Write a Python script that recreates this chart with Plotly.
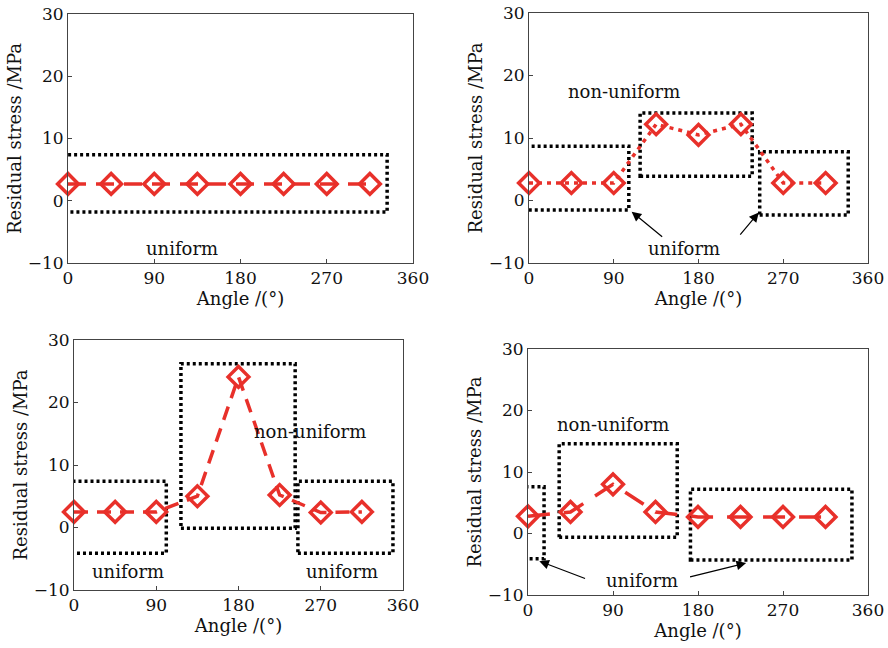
import plotly.graph_objects as go

angles = [0, 45, 90, 135, 180, 225, 270, 315]
stress_a = [2.7, 2.7, 2.7, 2.7, 2.7, 2.7, 2.7, 2.7]
stress_b = [2.8, 2.8, 2.8, 12.2, 10.5, 12.2, 2.8, 2.8]
stress_c = [2.5, 2.5, 2.5, 5.0, 24.1, 5.2, 2.4, 2.5]
stress_d = [2.8, 3.5, 8.0, 3.5, 2.7, 2.7, 2.7, 2.7]

x_ticks = [0, 90, 180, 270, 360]
y_ticks = [-10, 0, 10, 20, 30]
y_ticktext = ["\u221210", "0", "10", "20", "30"]

# dotted region boxes per panel: (x0, x1, y0, y1)
boxes_a = [(-10, 333, -1.8, 7.4)]
boxes_b = [(-13, 106, -1.5, 8.7), (118, 237, 3.9, 14.0), (245, 339, -2.3, 7.8)]
boxes_c = [(-23, 101, -4.1, 7.4), (117, 242, -0.1, 26.2), (245, 349, -4.1, 7.4)]
boxes_d = [(-11, 17, -4.1, 7.6), (33, 158, -0.6, 14.6), (172, 343, -4.3, 7.2)]

# text labels per panel: (text, x, y)
labels_a = [("uniform", 119, -7.7)]
labels_b = [("non-uniform", 101, 17.4), ("uniform", 165, -7.6)]
labels_c = [("non-uniform", 258, 15.3), ("uniform", 59, -7.1), ("uniform", 293, -7.1)]
labels_d = [("non-uniform", 90, 17.8), ("uniform", 121, -7.7)]

# arrows per panel: (tail_x, tail_y, head_x, head_y)
arrows_b = [(143, -6.0, 109, -1.8), (223, -5.7, 244, -1.9)]
arrows_d = [(62, -7.4, 12, -4.5), (170, -7.1, 231, -4.8)]

RED = "#e8302a"
FONT = "DejaVu Serif"
TXT = "#111"

panels = [
    dict(y=stress_a, dash="18px,10px", boxes=boxes_a, labels=labels_a, arrows=[],
         xd=[68 / 888, 413 / 888], yd=[1 - 263 / 648, 1 - 14 / 648]),
    dict(y=stress_b, dash="4px,5px", boxes=boxes_b, labels=labels_b, arrows=arrows_b,
         xd=[529 / 888, 868 / 888], yd=[1 - 263 / 648, 1 - 13 / 648]),
    dict(y=stress_c, dash="14px,9px", boxes=boxes_c, labels=labels_c, arrows=[],
         xd=[74 / 888, 403 / 888], yd=[1 - 590 / 648, 1 - 340 / 648]),
    dict(y=stress_d, dash="22px,14px", boxes=boxes_d, labels=labels_d, arrows=arrows_d,
         xd=[528 / 888, 868 / 888], yd=[1 - 595 / 648, 1 - 349 / 648]),
]

fig = go.Figure()
shapes = []
annotations = []
layout = {}

for i, p in enumerate(panels):
    n = "" if i == 0 else str(i + 1)
    xa, ya = "x" + n, "y" + n
    fig.add_trace(go.Scatter(
        x=angles, y=p["y"], xaxis=xa, yaxis=ya, mode="lines+markers",
        line=dict(color=RED, width=3.5, dash=p["dash"]),
        marker=dict(symbol="diamond-open", size=16, color=RED, line=dict(width=3.5, color=RED)),
        showlegend=False, cliponaxis=False,
    ))
    common = dict(showline=True, linecolor="#444", linewidth=1, mirror=True,
                  ticks="inside", ticklen=4, tickcolor="#444", showgrid=False, zeroline=False,
                  tickfont=dict(family=FONT, size=17, color=TXT), automargin=False)
    layout["xaxis" + n] = dict(domain=p["xd"], anchor=ya, range=[0, 360], tickvals=x_ticks,
                               title=dict(text="Angle /(\u00b0)", standoff=1,
                                          font=dict(family=FONT, size=18, color=TXT)),
                               **common)
    layout["yaxis" + n] = dict(domain=p["yd"], anchor=xa, range=[-10, 30], tickvals=y_ticks,
                               ticktext=y_ticktext,
                               title=dict(text="Residual stress /MPa", standoff=1,
                                          font=dict(family=FONT, size=18, color=TXT)),
                               **common)
    for (x0, x1, y0, y1) in p["boxes"]:
        shapes.append(dict(type="rect", xref=xa, yref=ya, x0=x0, x1=x1, y0=y0, y1=y1,
                           line=dict(color="black", width=3.5, dash="3px,3px"), layer="below"))
    for (t, x, y) in p["labels"]:
        annotations.append(dict(text=t, x=x, y=y, xref=xa, yref=ya, showarrow=False,
                                font=dict(family=FONT, size=18, color=TXT)))
    for (tx, ty, hx, hy) in p["arrows"]:
        annotations.append(dict(text="", x=hx, y=hy, ax=tx, ay=ty, xref=xa, yref=ya,
                                axref=xa, ayref=ya, showarrow=True, arrowhead=2,
                                arrowsize=1.6, arrowwidth=1.2, arrowcolor="black"))

fig.update_layout(
    width=888, height=648, margin=dict(l=0, r=0, t=0, b=0),
    paper_bgcolor="white", plot_bgcolor="white",
    shapes=shapes, annotations=annotations, **layout,
)

fig.write_html("out.html", config={"displayModeBar": False},
               post_script="document.body.style.margin='0';")
